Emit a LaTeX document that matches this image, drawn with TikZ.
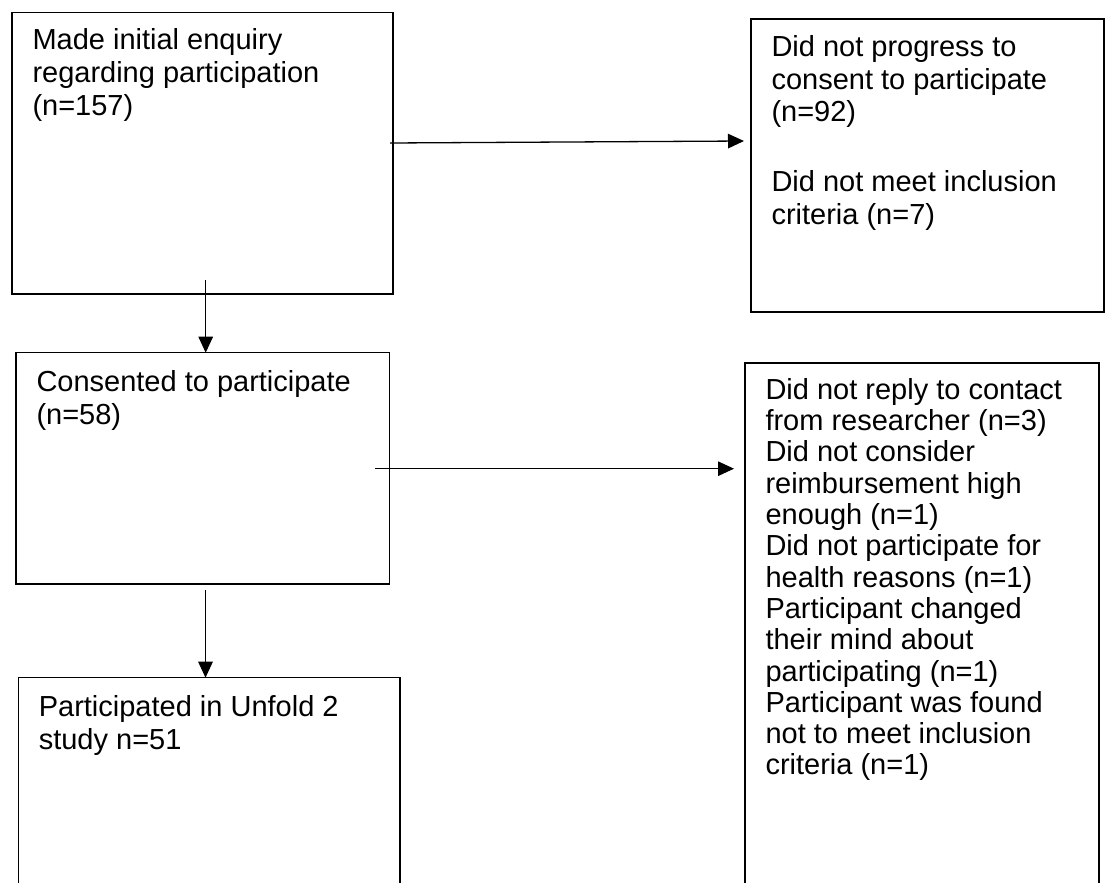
\documentclass[tikz,border=0pt]{standalone}
\usepackage{fontspec}
\setmainfont{Liberation Sans}
\usetikzlibrary{arrows.meta}

% first-line strut: fixes the distance from the box top to the first baseline
\newcommand{\firstline}{\rule{0pt}{22pt}}

\tikzset{
  flowbox/.style={draw, line width=1.3pt, outer sep=0pt, anchor=north west,
    inner xsep=20.5pt},
  flowarrow/.style={line width=1.3pt, -{Triangle[length=16pt,width=14.5pt]}},
}

\begin{document}
\begin{tikzpicture}[x=1pt, y=-1pt]
  \useasboundingbox (0,0) rectangle (1109,883);
  \clip (0,0) rectangle (1109,883);

  % left column
  \node[flowbox, inner ysep=15.5pt] (enquiry) at (12,12.5)
    {\parbox[t][250.5pt][t]{340pt}{\fontsize{29}{33}\selectfont\firstline
      Made initial enquiry\\
      regarding participation\\
      (n=157)}};

  \node[flowbox, inner ysep=16.3pt] (consent) at (16,352.7)
    {\parbox[t][198.7pt][t]{332.5pt}{\fontsize{29}{33}\selectfont\firstline
      Consented to participate\\
      (n=58)}};

  \node[flowbox, inner ysep=17pt] (study) at (18.3,677.7)
    {\parbox[t][230pt][t]{340.7pt}{\fontsize{29}{33}\selectfont\firstline
      Participated in Unfold 2\\
      study n=51}};

  % right column
  \node[flowbox, inner ysep=15.7pt] (excluded) at (751,19)
    {\parbox[t][261.6pt][t]{312pt}{\fontsize{29}{32.5}\selectfont\firstline
      Did not progress to\\
      consent to participate\\
      (n=92)\\[37.5pt]
      Did not meet inclusion\\
      criteria (n=7)}};

  \node[flowbox, inner ysep=14.3pt] (withdrawn) at (745,363)
    {\parbox[t][520pt][t]{313pt}{\fontsize{29}{31.3}\selectfont\firstline
      Did not reply to contact\\
      from researcher (n=3)\\
      Did not consider\\
      reimbursement high\\
      enough (n=1)\\
      Did not participate for\\
      health reasons (n=1)\\
      Participant changed\\
      their mind about\\
      participating (n=1)\\
      Participant was found\\
      not to meet inclusion\\
      criteria (n=1)}};

  % connectors
  \coordinate (excl-start) at (390,143);
  \coordinate (excl-end) at (744,141);
  \draw[flowarrow] (excl-start) -- (excl-end);

  \coordinate (wd-start) at (375,468.7);
  \coordinate (wd-end) at (734,468.7);
  \draw[flowarrow] (wd-start) -- (wd-end);

  \coordinate (down1) at (205.7,280);
  \draw[flowarrow] (down1) -- (down1 |- consent.north);

  \coordinate (down2) at (205.5,590);
  \draw[flowarrow] (down2) -- (down2 |- study.north);
\end{tikzpicture}
\end{document}
